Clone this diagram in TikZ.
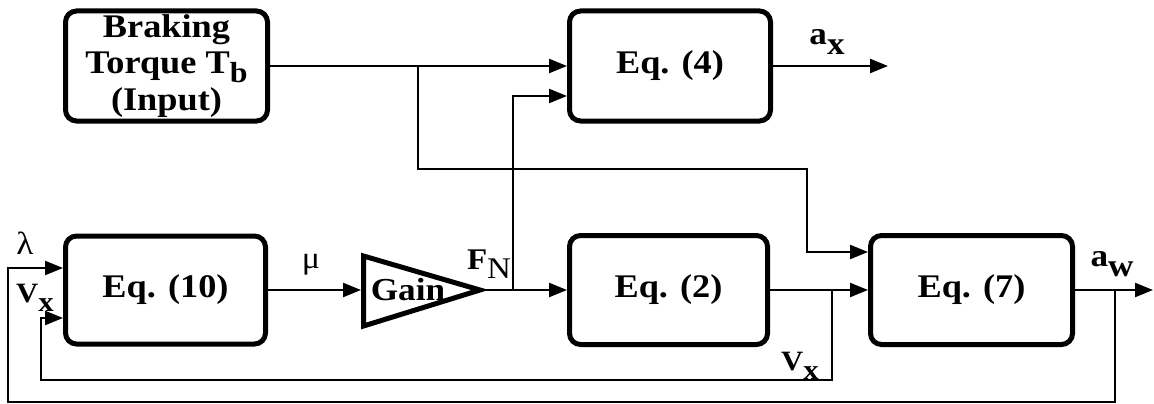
\documentclass[tikz,border=0pt]{standalone}
\usepackage{fontspec}
\setmainfont[FakeStretch=1.1]{Liberation Serif}
\usetikzlibrary{arrows.meta}
\newcommand{\lowsub}[2]{\raisebox{-#1}{#2}}
\begin{document}
\begin{tikzpicture}[x=1pt,y=-1pt,
  box/.style={draw, line width=5pt, rounded corners=11pt, inner sep=0pt,
    font=\fontsize{33}{36.5}\selectfont\bfseries, align=center},
  arr/.style={line width=2.4pt, -{Triangle[length=18pt,width=14pt]}},
  tri/.style={draw, line width=5pt, line join=miter},
  lbl/.style={inner sep=0pt, font=\fontsize{32}{34}\selectfont\bfseries}]
\useasboundingbox (0,0) rectangle (1154,404);

% blocks
\node[box, minimum width=202pt, minimum height=110pt] (brk) at (166.5,66)
  {Braking\\Torque T\lowsub{0.25em}{\fontsize{29}{30}\selectfont b}\\(Input)};
\node[box, minimum width=201pt, minimum height=110pt] (eq4) at (670,66) {Eq. (4)};
\node[box, minimum width=200pt, minimum height=108pt] (eq10) at (165.5,290) {Eq. (10)};
\node[box, minimum width=198pt, minimum height=109pt] (eq2) at (668.5,290) {Eq. (2)};
\node[box, minimum width=202pt, minimum height=109pt] (eq7) at (971.5,290) {Eq. (7)};

% gain
\coordinate (gin) at (361,290);
\coordinate (gout) at (480,290);
\coordinate (gtop) at (363.5,256);
\coordinate (gbot) at (363.5,326);
\draw[tri] (gtop) -- (gout) -- (gbot) -- cycle;
\node[inner sep=0pt, font=\fontsize{32}{34}\selectfont\bfseries] (gain) at (408,290) {Gain};

% junctions and bends
\coordinate (jT) at (418,66);
\coordinate (bendT) at (807,169);
\coordinate (jF) at (513,290);
\coordinate (jV) at (832,290);
\coordinate (bV) at (41,380);
\coordinate (jA) at (1115,290);
\coordinate (bA) at (8,402);
\coordinate (axend) at (888,66);
\coordinate (awend) at (1153,290);

% connectors
\draw[arr] (brk.east) -- (eq4.west);
\draw[arr] (jT) |- (bendT) |- ([yshift=38pt]eq7.west);
\draw[arr] (jF) |- ([yshift=-30pt]eq4.west);
\draw[arr] (eq4.east) -- (axend);
\draw[arr] (eq10.east) -- (gin);
\draw[arr] (gout) -- (eq2.west);
\draw[arr] (eq2.east) -- (eq7.west);
\draw[arr] (eq7.east) -- (awend);
\draw[arr] (jV) |- (bV) |- ([yshift=-28pt]eq10.west);
\draw[arr] (jA) |- (bA) |- ([yshift=22pt]eq10.west);

% labels
\node[lbl] (lax) at (827,42) {a\lowsub{0.3em}{x}};
\node[lbl] (law) at (1112,264) {a\lowsub{0.3em}{w}};
\node[lbl, font=\fontsize{28}{30}\selectfont\bfseries] (lvx) at (800,366) {V\lowsub{0.3em}{x}};
\node[lbl, font=\fontsize{28}{30}\selectfont\bfseries] (lvl) at (35,298) {V\lowsub{0.3em}{x}};
\node[lbl, font=\fontsize{32}{34}\selectfont] (llam) at (25,243) {λ};
\node[lbl, font=\fontsize{31}{34}\selectfont] (lmu) at (311,265) {μ};
\node[lbl, font=\fontsize{30}{32}\selectfont\bfseries] (lfn) at (489,264) {F\lowsub{0.3em}{\mdseries N}};
\end{tikzpicture}
\end{document}
